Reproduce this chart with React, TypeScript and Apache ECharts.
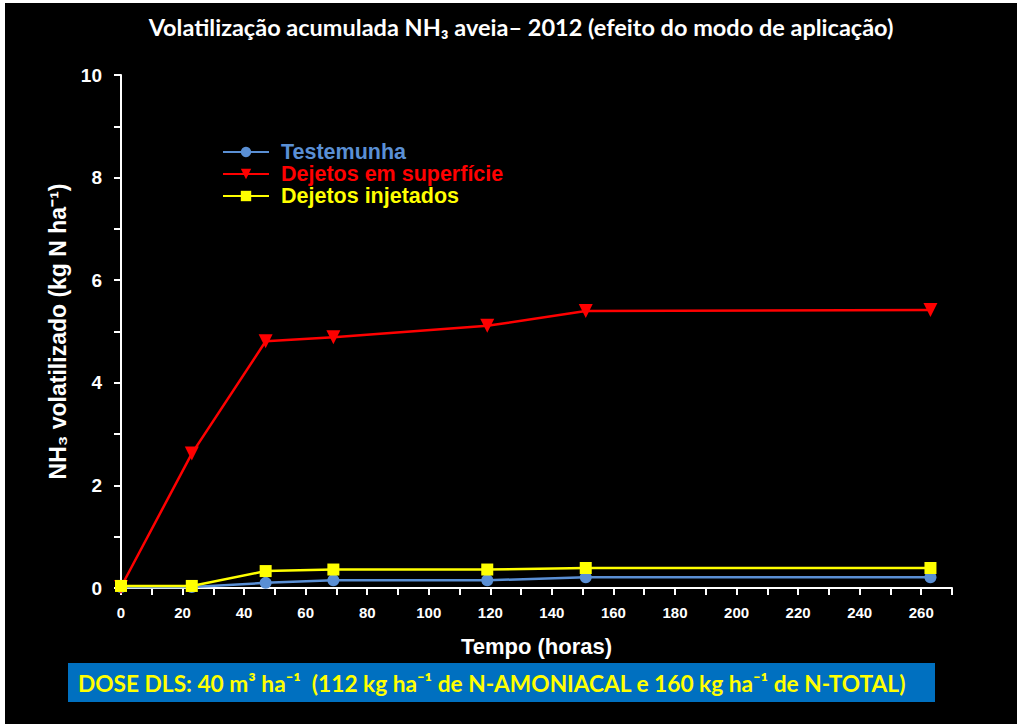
import React, { useEffect, useRef } from "react";
import * as echarts from "echarts";

const hours = [0, 23, 47, 69, 119, 151, 263];
const testemunha = [0.02, 0.02, 0.1, 0.15, 0.15, 0.21, 0.21];
const superficie = [0.02, 2.62, 4.81, 4.89, 5.11, 5.4, 5.42];
const injetados = [0.04, 0.04, 0.33, 0.36, 0.36, 0.39, 0.39];
const seriesNames = ["Testemunha", "Dejetos em superfície", "Dejetos injetados"];
const xTickLabels = ["0", "20", "40", "60", "80", "100", "120", "140", "160", "180", "200", "220", "240", "260"];
const yTickLabels = ["0", "2", "4", "6", "8", "10"];

const BLUE = "#5a8fd4";
const RED = "#ff0000";
const YELLOW = "#ffff00";

export default function App() {
  const ref = useRef<HTMLDivElement>(null);
  useEffect(() => {
    if (!ref.current) return;
    const chart = echarts.init(ref.current, null, { renderer: "svg" });
    const pair = (vals: number[]) => hours.map((h, i) => [h, vals[i]]);
    chart.setOption({
      animation: false,
      backgroundColor: "transparent",
      title: {
        text: "Volatilização acumulada NH₃ aveia– 2012 (efeito do modo de aplicação)",
        left: 516,
        top: 10,
        textAlign: "center",
        textStyle: { color: "#ffffff", fontFamily: "Lato", fontWeight: "bold", fontSize: 23.5 },
      },
      legend: {
        orient: "vertical",
        left: 222,
        top: 141,
        padding: 0,
        itemWidth: 46,
        itemHeight: 13,
        itemGap: 0,
        data: [
          { name: seriesNames[0], textStyle: { color: BLUE } },
          { name: seriesNames[1], textStyle: { color: RED } },
          { name: seriesNames[2], textStyle: { color: YELLOW } },
        ],
        textStyle: { fontFamily: "Liberation Sans", fontWeight: "bold", fontSize: 21.5, lineHeight: 22, padding: [0, 0, 0, 7] },
      },
      grid: { left: 121, right: 72, top: 75, bottom: 136, containLabel: false },
      xAxis: {
        type: "value",
        min: 0,
        max: 270,
        interval: 10,
        name: "Tempo (horas)",
        nameLocation: "middle",
        nameGap: 47,
        nameTextStyle: { color: "#ffffff", fontFamily: "Liberation Sans", fontWeight: "bold", fontSize: 22 },
        axisLine: { show: true, lineStyle: { color: "#ffffff", width: 2 } },
        axisTick: { show: true, inside: false, length: 7, lineStyle: { color: "#ffffff", width: 2 } },
        axisLabel: {
          color: "#ffffff",
          fontFamily: "Liberation Sans",
          fontWeight: "bold",
          fontSize: 15,
          margin: 17,
          formatter: (v: number) => {
            const s = String(v);
            return xTickLabels.includes(s) ? s : "";
          },
        },
        splitLine: { show: false },
      },
      yAxis: {
        type: "value",
        min: 0,
        max: 10,
        interval: 1,
        name: "NH₃ volatilizado (kg N ha⁻¹)",
        nameLocation: "middle",
        nameGap: 46,
        nameTextStyle: { color: "#ffffff", fontFamily: "Liberation Sans", fontWeight: "bold", fontSize: 23 },
        axisLine: { show: true, lineStyle: { color: "#ffffff", width: 2 } },
        axisTick: { show: true, inside: false, length: 7, lineStyle: { color: "#ffffff", width: 2 } },
        axisLabel: {
          color: "#ffffff",
          fontFamily: "Liberation Sans",
          fontWeight: "bold",
          fontSize: 19,
          margin: 19,
          formatter: (v: number) => {
            const s = String(v);
            return yTickLabels.includes(s) ? s : "";
          },
        },
        splitLine: { show: false },
      },
      series: [
        {
          name: seriesNames[0],
          type: "line",
          data: pair(testemunha),
          symbol: "circle",
          symbolSize: 12,
          itemStyle: { color: BLUE },
          lineStyle: { color: BLUE, width: 2.5 },
        },
        {
          name: seriesNames[1],
          type: "line",
          data: pair(superficie),
          symbol: "triangle",
          symbolRotate: 180,
          symbolSize: 14,
          itemStyle: { color: RED },
          lineStyle: { color: RED, width: 2.5 },
        },
        {
          name: seriesNames[2],
          type: "line",
          data: pair(injetados),
          symbol: "rect",
          symbolSize: 12,
          itemStyle: { color: YELLOW },
          lineStyle: { color: YELLOW, width: 2.5 },
        },
      ],
      graphic: [
        {
          type: "rect",
          shape: { x: 68, y: 663, width: 867, height: 39 },
          style: { fill: "#0070c0" },
        },
        {
          type: "text",
          x: 78,
          y: 683,
          style: {
            text: "DOSE DLS: 40 m³ ha⁻¹  (112 kg ha⁻¹ de N-AMONIACAL e 160 kg ha⁻¹ de N-TOTAL)",
            fill: YELLOW,
            fontFamily: "Lato",
            fontWeight: "bold",
            fontSize: 22.7,
            textVerticalAlign: "middle",
          },
        },
      ],
    });
    return () => chart.dispose();
  }, []);
  return (
    <div style={{ position: "absolute", left: 0, top: 0, width: 1024, height: 724, background: "#ffffff" }}>
      <div style={{ position: "absolute", left: 5, top: 3, width: 1012, height: 721, background: "#000000" }} />
      <div ref={ref} style={{ position: "absolute", left: 0, top: 0, width: 1024, height: 724 }} />
    </div>
  );
}
